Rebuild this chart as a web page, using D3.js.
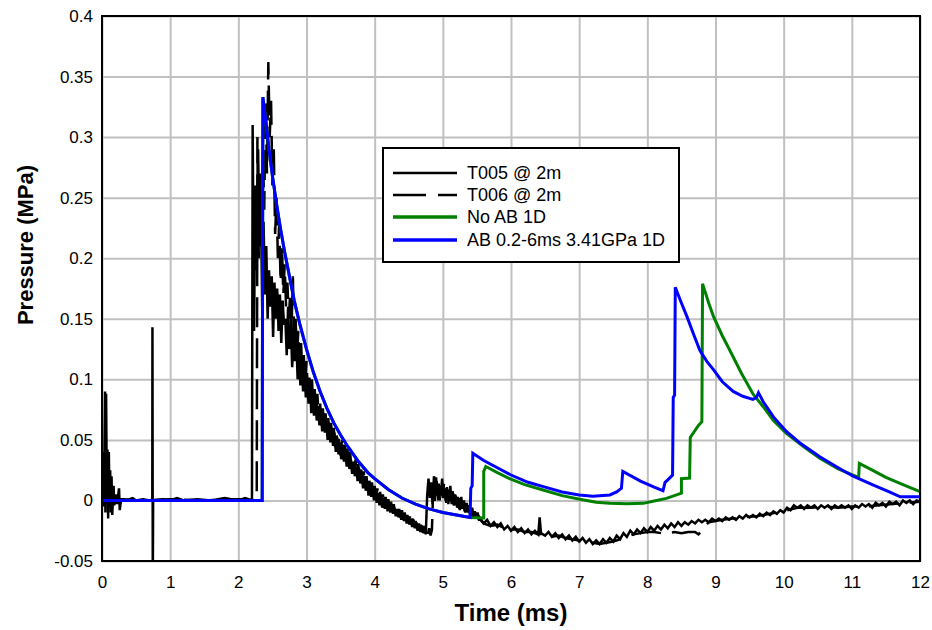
<!DOCTYPE html>
<html><head><meta charset="utf-8">
<script src="https://cdn.jsdelivr.net/npm/d3@7"></script>
<style>body{margin:0;background:#fff}svg{display:block}text{font-family:"Liberation Sans",Arial,sans-serif;fill:#000}</style>
</head><body><svg id="c" width="932" height="630"></svg>
<script>
// ---------------- data ----------------
const xTicks = [0,1,2,3,4,5,6,7,8,9,10,11,12];
const yTicks = [-0.05,0,0.05,0.1,0.15,0.2,0.25,0.3,0.35,0.4];
const yTickLabels = ["-0.05","0","0.05","0.1","0.15","0.2","0.25","0.3","0.35","0.4"];
const seriesNames = ["T005 @ 2m","T006 @ 2m","No AB 1D","AB 0.2-6ms 3.41GPa 1D"];
const xTitle = "Time (ms)";
const yTitle = "Pressure (MPa)";

// T005 (measured, solid)
const T005_early = [[0,0],[0.01,0.04],[0.015,-0.005],[0.025,0.035],[0.03,0.005],[0.045,0.09],[0.05,-0.01],[0.06,0.088],[0.07,0.01],[0.08,0.042],[0.09,-0.015],[0.1,0.04],[0.11,0],[0.12,0.025],[0.13,-0.01],[0.14,0.02],[0.15,-0.012],[0.17,0.012],[0.18,-0.004],[0.2,0.005],[0.22,-0.003],[0.25,0.01],[0.26,-0.008],[0.28,0.001],[0.35,0],[0.45,0.002],[0.5,0],[0.6,0.001],[0.7,0],[0.738,0],[0.74,0.143],[0.745,-0.07],[0.75,0],[0.9,0.001],[1.0,0],[1.1,0.002],[1.2,0],[1.4,0.001],[1.6,0],[1.8,0.002],[2.0,0],[2.1,0.002],[2.2,0]];
const T005_pulseStart = 2.21, T005_pulseStep = 0.02;
const T005_pulse = [
0.31,0.14,0.26,0.19,0.29,0.21,0.25,0.16,0.23,0.17,
0.21,0.15,0.19,0.16,0.185,0.135,0.18,0.15,0.175,0.14,
0.17,0.13,0.165,0.145,0.15,0.12,0.16,0.125,0.145,0.11,
0.14,0.115,0.135,0.1,0.13,0.095,0.115,0.09,0.11,0.085,
0.1,0.08,0.098,0.072,0.09,0.07,0.085,0.066,0.078,0.062,
0.076,0.057,0.072,0.056,0.066,0.05,0.064,0.048,0.058,0.045,
0.056,0.04,0.052,0.038,0.048,0.034,0.046,0.032,0.041,0.028,
0.038,0.026,0.034,0.022,0.032,0.02,0.028,0.016,0.027,0.014,
0.022,0.01,0.02,0.008,0.016,0.004,0.014,0.003,0.01,0.0,
0.008,-0.002,0.006,-0.004,0.003,-0.006,0.002,-0.007,0.0,-0.009,
-0.002,-0.01,-0.004,-0.011,-0.006,-0.013,-0.007,-0.014,-0.009,-0.016,
-0.01,-0.017,-0.012,-0.019,-0.013,-0.02,-0.015,-0.022,-0.016,-0.023,
-0.018,-0.025,-0.019,-0.026,-0.021,-0.027,-0.022,-0.028];
const T005_bumpStart = 4.77, T005_bumpStep = 0.02;
const T005_bump = [
0.004,0.018,0.002,0.015,-0.003,0.02,0.006,0.016,0.0,0.012,
0.004,0.018,0.002,0.01,-0.002,0.009,0.0,0.012,-0.003,0.006,
-0.004,0.004,-0.006,0.002,-0.008,0.003,-0.007,0.0,-0.01,-0.002,
-0.01,-0.004,-0.012,-0.006,-0.013,-0.009,-0.015,-0.01,-0.016];
const T005_tail = [[5.55,-0.016],[5.6,-0.019],[5.65,-0.016],[5.7,-0.021],[5.75,-0.018],[5.8,-0.022],[5.85,-0.019],[5.9,-0.024],[5.95,-0.021],[6.0,-0.025],[6.05,-0.022],[6.1,-0.026],[6.15,-0.023],[6.2,-0.027],[6.25,-0.024],[6.3,-0.028],[6.35,-0.025],[6.4,-0.028],[6.42,-0.014],[6.44,-0.027],[6.5,-0.029],[6.55,-0.026],[6.6,-0.03],[6.65,-0.027],[6.7,-0.031],[6.75,-0.028],[6.8,-0.032],[6.85,-0.029],[6.9,-0.033],[6.95,-0.03],[7.0,-0.034],[7.05,-0.031],[7.1,-0.035],[7.15,-0.032],[7.2,-0.036],[7.25,-0.033],[7.3,-0.036],[7.35,-0.032],[7.4,-0.035],[7.45,-0.031],[7.5,-0.034],[7.55,-0.029],[7.6,-0.032],[7.65,-0.027],[7.7,-0.03],[7.75,-0.025],[7.8,-0.028],[7.85,-0.024],[7.9,-0.027],[7.95,-0.023],[8.0,-0.026],[8.05,-0.022],[8.1,-0.025],[8.15,-0.021],[8.2,-0.024],[8.25,-0.02],[8.3,-0.023],[8.35,-0.019],[8.4,-0.022],[8.45,-0.018],[8.5,-0.021],[8.55,-0.018],[8.6,-0.02],[8.65,-0.017],[8.7,-0.019],[8.75,-0.016],[8.8,-0.018],[8.85,-0.016],[8.9,-0.018],[8.95,-0.015],[9.0,-0.017],[9.05,-0.015],[9.1,-0.017],[9.15,-0.014],[9.2,-0.016],[9.25,-0.014],[9.3,-0.016],[9.35,-0.013],[9.4,-0.015],[9.45,-0.012],[9.5,-0.014],[9.55,-0.012],[9.6,-0.014],[9.65,-0.011],[9.7,-0.013],[9.75,-0.01],[9.8,-0.012],[9.85,-0.009],[9.9,-0.011],[9.95,-0.008],[10.0,-0.01],[10.05,-0.006],[10.1,-0.008],[10.15,-0.004],[10.2,-0.006],[10.25,-0.004],[10.3,-0.007],[10.35,-0.004],[10.4,-0.006],[10.45,-0.004],[10.5,-0.007],[10.55,-0.004],[10.6,-0.006],[10.65,-0.004],[10.7,-0.007],[10.75,-0.004],[10.8,-0.006],[10.85,-0.004],[10.9,-0.006],[10.95,-0.004],[11.0,-0.007],[11.05,-0.004],[11.1,-0.006],[11.15,-0.003],[11.2,-0.005],[11.25,-0.003],[11.3,-0.006],[11.35,-0.002],[11.4,-0.004],[11.45,-0.002],[11.5,-0.005],[11.55,-0.001],[11.6,-0.003],[11.65,-0.001],[11.7,-0.004],[11.75,0.0],[11.8,-0.002],[11.85,0.0],[11.9,-0.003],[11.95,0.0],[12.0,-0.001]];

// T006 (measured, dashed)
const T006_early = [[0,0],[0.3,0.001],[0.6,0],[1.0,0.001],[1.5,0],[2.0,0.001],[2.27,0]];
const T006_pulseStart = 2.28, T006_pulseStep = 0.02;
const T006_pulse = [
0.30,0.2,0.27,0.21,0.29,0.24,0.33,0.27,0.362,0.3,
0.33,0.26,0.29,0.22,0.25,0.2,0.23,0.18,0.21,0.17,
0.195,0.16,0.18,0.15,0.17,0.14,0.185,0.13,0.15,0.12,
0.14,0.11,0.13,0.105,0.12,0.095,0.115,0.09,0.105,0.08,
0.1,0.078,0.092,0.07,0.088,0.066,0.08,0.062,0.076,0.058,
0.072,0.055,0.068,0.05,0.064,0.048,0.06,0.044,0.056,0.04,
0.054,0.037,0.05,0.034,0.046,0.031,0.043,0.028,0.04,0.026,
0.036,0.023,0.034,0.02,0.03,0.017,0.027,0.014,0.024,0.011,
0.02,0.008,0.018,0.006,0.015,0.004,0.012,0.002,0.01,0.0,
0.007,-0.002,0.005,-0.004,0.003,-0.006,0.001,-0.008,-0.001,-0.009,
-0.003,-0.011,-0.005,-0.012,-0.007,-0.014,-0.008,-0.015,-0.01,-0.017,
-0.012,-0.018,-0.013,-0.02,-0.015,-0.022,-0.017,-0.023,-0.018,-0.025,
-0.02,-0.026,-0.021,-0.027,-0.022,-0.028,-0.023,-0.029,-0.024];
const T006_bumpStart = 4.86, T006_bumpStep = 0.02;
const T006_bump = [
0.012,-0.002,0.019,0.004,0.014,-0.002,0.01,0.002,0.016,0.0,
0.011,-0.003,0.008,-0.001,0.01,-0.004,0.005,-0.005,0.003,-0.007,
0.001,-0.008,-0.001,-0.009,-0.003,-0.011,-0.006,-0.012,-0.008,-0.014,
-0.01,-0.015,-0.012,-0.017,-0.014];
const T006_tail = [[5.6,-0.019],[5.7,-0.021],[5.8,-0.02],[5.9,-0.023],[6.0,-0.024],[6.1,-0.024],[6.2,-0.026],[6.3,-0.026],[6.4,-0.028],[6.5,-0.027],[6.6,-0.03],[6.7,-0.029],[6.8,-0.031],[6.9,-0.032],[7.0,-0.033],[7.1,-0.035],[7.2,-0.035],[7.3,-0.036],[7.4,-0.035],[7.5,-0.034],[7.6,-0.032],[7.7,-0.03],[7.8,-0.028],[7.9,-0.027],[8.0,-0.026],[8.1,-0.026],[8.2,-0.027],[8.3,-0.027],[8.4,-0.026],[8.5,-0.027],[8.6,-0.026],[8.7,-0.026],[8.75,-0.028],[8.8,-0.025],[8.85,-0.021],[8.9,-0.018],[9.0,-0.017],[9.1,-0.016],[9.25,-0.015],[9.4,-0.014],[9.6,-0.013],[9.8,-0.011],[10.0,-0.009],[10.2,-0.006],[10.4,-0.006],[10.6,-0.005],[10.8,-0.006],[11.0,-0.005],[11.2,-0.005],[11.4,-0.004],[11.6,-0.003],[11.8,-0.002],[12.0,-0.001]];

// No AB 1D (green)
const noAB_t = [0,2.35,2.36,2.40,2.45,2.50,2.56,2.62,2.68,2.75,2.82,2.90,3.00,3.10,3.20,3.30,3.40,3.50,3.60,3.75,3.90,4.00,4.20,4.40,4.60,4.80,5.00,5.20,5.40,5.6,5.6,5.63,5.8,5.98,6.2,6.47,6.75,7.01,7.25,7.45,7.7,7.94,8.1,8.28,8.45,8.5,8.5,8.62,8.63,8.75,8.8,8.81,8.9,8.97,9.1,9.21,9.38,9.55,9.7,9.85,10.04,10.3,10.53,10.8,11.07,11.1,11.11,11.3,11.5,11.75,12.0];
const noAB_p = [0,0,0.333,0.315,0.29,0.268,0.245,0.224,0.205,0.185,0.165,0.146,0.125,0.106,0.09,0.076,0.064,0.054,0.045,0.033,0.023,0.018,0.009,0.002,-0.003,-0.007,-0.01,-0.012,-0.014,-0.0145,0.024,0.028,0.023,0.018,0.013,0.0086,0.004,0.001,-0.0015,-0.0024,-0.0027,-0.0024,-0.0005,0.0017,0.005,0.006,0.018,0.0185,0.052,0.062,0.065,0.179,0.163,0.152,0.136,0.124,0.105,0.088,0.0774,0.066,0.0554,0.044,0.0348,0.026,0.0196,0.019,0.0306,0.025,0.019,0.013,0.0072];

// AB 0.2-6ms 3.41GPa 1D (blue)
const AB_t = [0,2.35,2.36,2.40,2.45,2.50,2.56,2.62,2.68,2.75,2.82,2.90,3.00,3.10,3.20,3.30,3.40,3.50,3.60,3.75,3.90,4.00,4.20,4.40,4.60,4.80,5.00,5.20,5.40,5.41,5.43,5.44,5.6,5.8,6.0,6.25,6.5,6.75,7.0,7.2,7.45,7.55,7.62,7.64,7.9,8.1,8.23,8.26,8.3,8.37,8.38,8.4,8.41,8.5,8.58,8.68,8.77,8.87,8.97,9.1,9.26,9.4,9.55,9.6,9.63,9.7,9.85,10.04,10.25,10.53,10.8,11.02,11.3,11.55,11.71,12.0];
const AB_p = [0,0,0.333,0.315,0.29,0.268,0.245,0.224,0.205,0.185,0.165,0.146,0.125,0.106,0.09,0.076,0.064,0.054,0.045,0.033,0.023,0.018,0.009,0.002,-0.003,-0.007,-0.01,-0.012,-0.014,0.01,0.012,0.039,0.033,0.027,0.021,0.015,0.011,0.007,0.0045,0.0035,0.0045,0.007,0.01,0.024,0.016,0.011,0.008,0.015,0.017,0.021,0.085,0.087,0.176,0.163,0.152,0.137,0.124,0.115,0.108,0.098,0.09,0.086,0.0835,0.085,0.089,0.0815,0.069,0.057,0.047,0.036,0.027,0.02,0.013,0.007,0.003,0.003];

// ---------------- build ----------------
function build(early, start, step, pulse, bStart, bStep, bump, tail){
  const pts = early.slice();
  pulse.forEach((v,i)=>pts.push([start+i*step, v]));
  bump.forEach((v,i)=>pts.push([bStart+i*bStep, v]));
  return pts.concat(tail);
}
const T005 = build(T005_early,T005_pulseStart,T005_pulseStep,T005_pulse,T005_bumpStart,T005_bumpStep,T005_bump,T005_tail);
const T006 = build(T006_early,T006_pulseStart,T006_pulseStep,T006_pulse,T006_bumpStart,T006_bumpStep,T006_bump,T006_tail);
const noAB = noAB_t.map((t,i)=>[t,noAB_p[i]]);
const AB = AB_t.map((t,i)=>[t,AB_p[i]]);

const L=102,R=920,T=16,B=561;
const svg = d3.select("#c");
const x = d3.scaleLinear().domain([0,12]).range([L,R]);
const y = d3.scaleLinear().domain([-0.05,0.4]).range([B,T]);

// grid + x axis
const gx = svg.append("g").attr("transform",`translate(0,${B})`)
  .call(d3.axisBottom(x).tickValues(xTicks).tickSize(-(B-T)).tickPadding(15).tickFormat(d3.format("d")));
gx.select(".domain").remove();
gx.selectAll("line").attr("stroke","#c0c0c0").attr("stroke-width",2);
gx.selectAll("text").attr("font-size",17).attr("fill","#000");

const gy = svg.append("g").attr("transform",`translate(${L},0)`)
  .call(d3.axisLeft(y).tickValues(yTicks).tickSize(-(R-L)).tickPadding(9).tickFormat((d,i)=>yTickLabels[i]));
gy.select(".domain").remove();
gy.selectAll("line").attr("stroke","#c0c0c0").attr("stroke-width",2);
gy.selectAll("text").attr("font-size",17).attr("fill","#000");

svg.append("clipPath").attr("id","clip").append("rect").attr("x",L).attr("y",T).attr("width",R-L).attr("height",B-T);

const line = d3.line().x(d=>x(d[0])).y(d=>y(d[1]));
const plot = svg.append("g").attr("clip-path","url(#clip)");
plot.append("path").datum(T005).attr("d",line).attr("fill","none").attr("stroke","#000").attr("stroke-width",2.5);
plot.append("path").datum(T006).attr("d",line).attr("fill","none").attr("stroke","#000").attr("stroke-width",2.5).attr("stroke-dasharray","30,11");
plot.append("path").datum(noAB).attr("d",line).attr("fill","none").attr("stroke","#008000").attr("stroke-width",3);
plot.append("path").datum(AB).attr("d",line).attr("fill","none").attr("stroke","#0000ff").attr("stroke-width",3);

// frame
svg.append("rect").attr("x",L).attr("y",T).attr("width",R-L).attr("height",B-T).attr("fill","none").attr("stroke","#000").attr("stroke-width",2);

// titles
svg.append("text").attr("x",(L+R)/2).attr("y",621).attr("text-anchor","middle").attr("font-size",24).attr("font-weight","bold").text(xTitle);
svg.append("text").attr("transform","translate(33,245) rotate(-90)").attr("text-anchor","middle").attr("font-size",22).attr("font-weight","bold").text(yTitle);

// legend
const lg = svg.append("g");
lg.append("rect").attr("x",383).attr("y",148).attr("width",296).attr("height",114).attr("fill","#fff").attr("stroke","#000").attr("stroke-width",2);
const styles = [{c:"#000",w:2.5,d:null},{c:"#000",w:2.5,d:"33,12"},{c:"#008000",w:3.5,d:null},{c:"#0000ff",w:3.5,d:null}];
const rowY = [173,195,217,240];
seriesNames.forEach((n,i)=>{
  lg.append("line").attr("x1",393).attr("x2",457).attr("y1",rowY[i]).attr("y2",rowY[i])
    .attr("stroke",styles[i].c).attr("stroke-width",styles[i].w).attr("stroke-dasharray",styles[i].d);
  lg.append("text").attr("x",467).attr("y",rowY[i]).attr("dy","0.35em").attr("font-size",18).text(n);
});
</script></body></html>
